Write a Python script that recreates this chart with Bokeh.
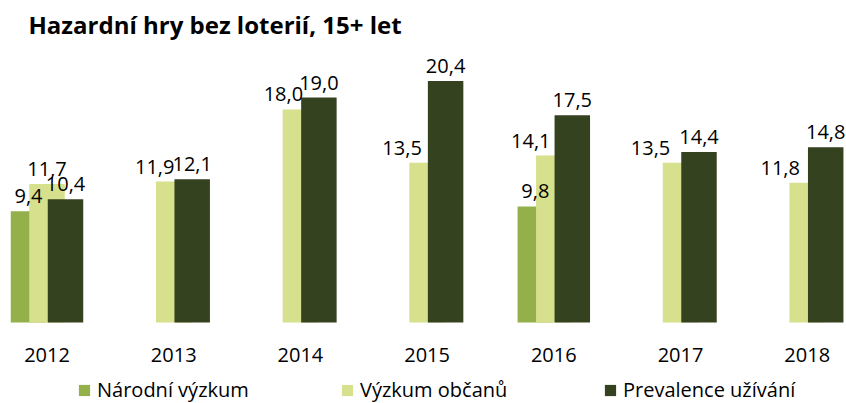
from bokeh.plotting import figure
from bokeh.models import (Range1d, FixedTicker, ColumnDataSource, Legend, LegendItem)
from bokeh.core.properties import value
from bokeh.embed import file_html
from bokeh.resources import INLINE

# ---- data ----
years = ["2012", "2013", "2014", "2015", "2016", "2017", "2018"]
narodni = [9.4, None, None, None, 9.8, None, None]
obcanu = [11.7, 11.9, 18.0, 13.5, 14.1, 13.5, 11.8]
prevalence = [10.4, 12.1, 19.0, 20.4, 17.5, 14.4, 14.8]
series_names = ["Národní výzkum", "Výzkum občanů", "Prevalence užívání"]
title_text = "Hazardní hry bez loterií, 15+ let"

# ---- style ----
colors = ["#93B04A", "#D7E08C", "#34421F"]
FONT = "Open Sans"
BAR_W = 0.280
OFFS = [-0.146, 0.0, 0.146]
# horizontal nudges (px) of the data labels of "Výzkum občanů"
label_dx = [[0] * 7, [0, -19, -17, -25, -23, -30, -27], [0] * 7]

W, H = 846, 403
TOP = 45              # frame top (px)
BASE = 322            # baseline of the bars (px from top)
PX_PER_UNIT = 11.84
CAT_PX = 126.7
FIRST_CENTER = 46.5

p = figure(width=W, height=H, frame_width=W, frame_height=H - TOP,
           output_backend="svg", toolbar_location=None,
           x_range=Range1d(-FIRST_CENTER / CAT_PX, (W - FIRST_CENTER) / CAT_PX),
           y_range=Range1d(-(H - BASE) / PX_PER_UNIT, (BASE - TOP) / PX_PER_UNIT),
           min_border_left=0, min_border_right=0, min_border_top=TOP, min_border_bottom=0,
           outline_line_color=None)
p.title.text = title_text
p.title.text_font = FONT
p.title.text_font_style = "bold"
p.title.text_font_size = "24px"
p.title.text_color = "#000000"
p.title.align = "left"
p.title.offset = 28

p.yaxis.visible = False
p.xgrid.visible = False
p.ygrid.visible = False
ax = p.xaxis[0]
ax.fixed_location = 0
ax.ticker = FixedTicker(ticks=list(range(len(years))))
ax.major_label_overrides = {i: y for i, y in enumerate(years)}
ax.axis_line_color = None
ax.major_tick_line_color = None
ax.minor_tick_line_color = None
ax.major_tick_out = 0
ax.major_tick_in = 0
ax.minor_tick_out = 0
ax.major_label_text_font = FONT
ax.major_label_text_font_size = "20px"
ax.major_label_text_color = "#000000"
ax.major_label_standoff = 25

renderers = []
sources = []
for k, vals in enumerate([narodni, obcanu, prevalence]):
    xs, ys, labs, dxs = [], [], [], []
    for i, v in enumerate(vals):
        if v is None:
            continue
        xs.append(i + OFFS[k])
        ys.append(v)
        labs.append(f"{v:.1f}".replace(".", ","))
        dxs.append(label_dx[k][i])
    src = ColumnDataSource(dict(x=xs, top=ys, lab=labs, dx=dxs))
    sources.append(src)
    r = p.vbar(x="x", top="top", width=BAR_W, bottom=0, source=src,
               fill_color=colors[k], line_color=None)
    renderers.append(r)

for src in sources:
    p.text(x="x", y="top", text="lab", source=src, x_offset="dx", y_offset=-15,
           text_align="center", text_baseline="alphabetic",
           text_font=value(FONT), text_font_size="20px", text_color="#000000")

legend = Legend(items=[LegendItem(label=series_names[k], renderers=[renderers[k]]) for k in range(3)],
                orientation="horizontal", location=(77, 0),
                glyph_width=14, glyph_height=14, label_standoff=6,
                label_width=220, spacing=23, padding=0, margin=0,
                label_text_font=FONT, label_text_font_size="20px",
                label_text_color="#000000", border_line_color=None,
                background_fill_alpha=0)
p.add_layout(legend, "center")

open("out.html", "w").write(file_html(p, INLINE))
